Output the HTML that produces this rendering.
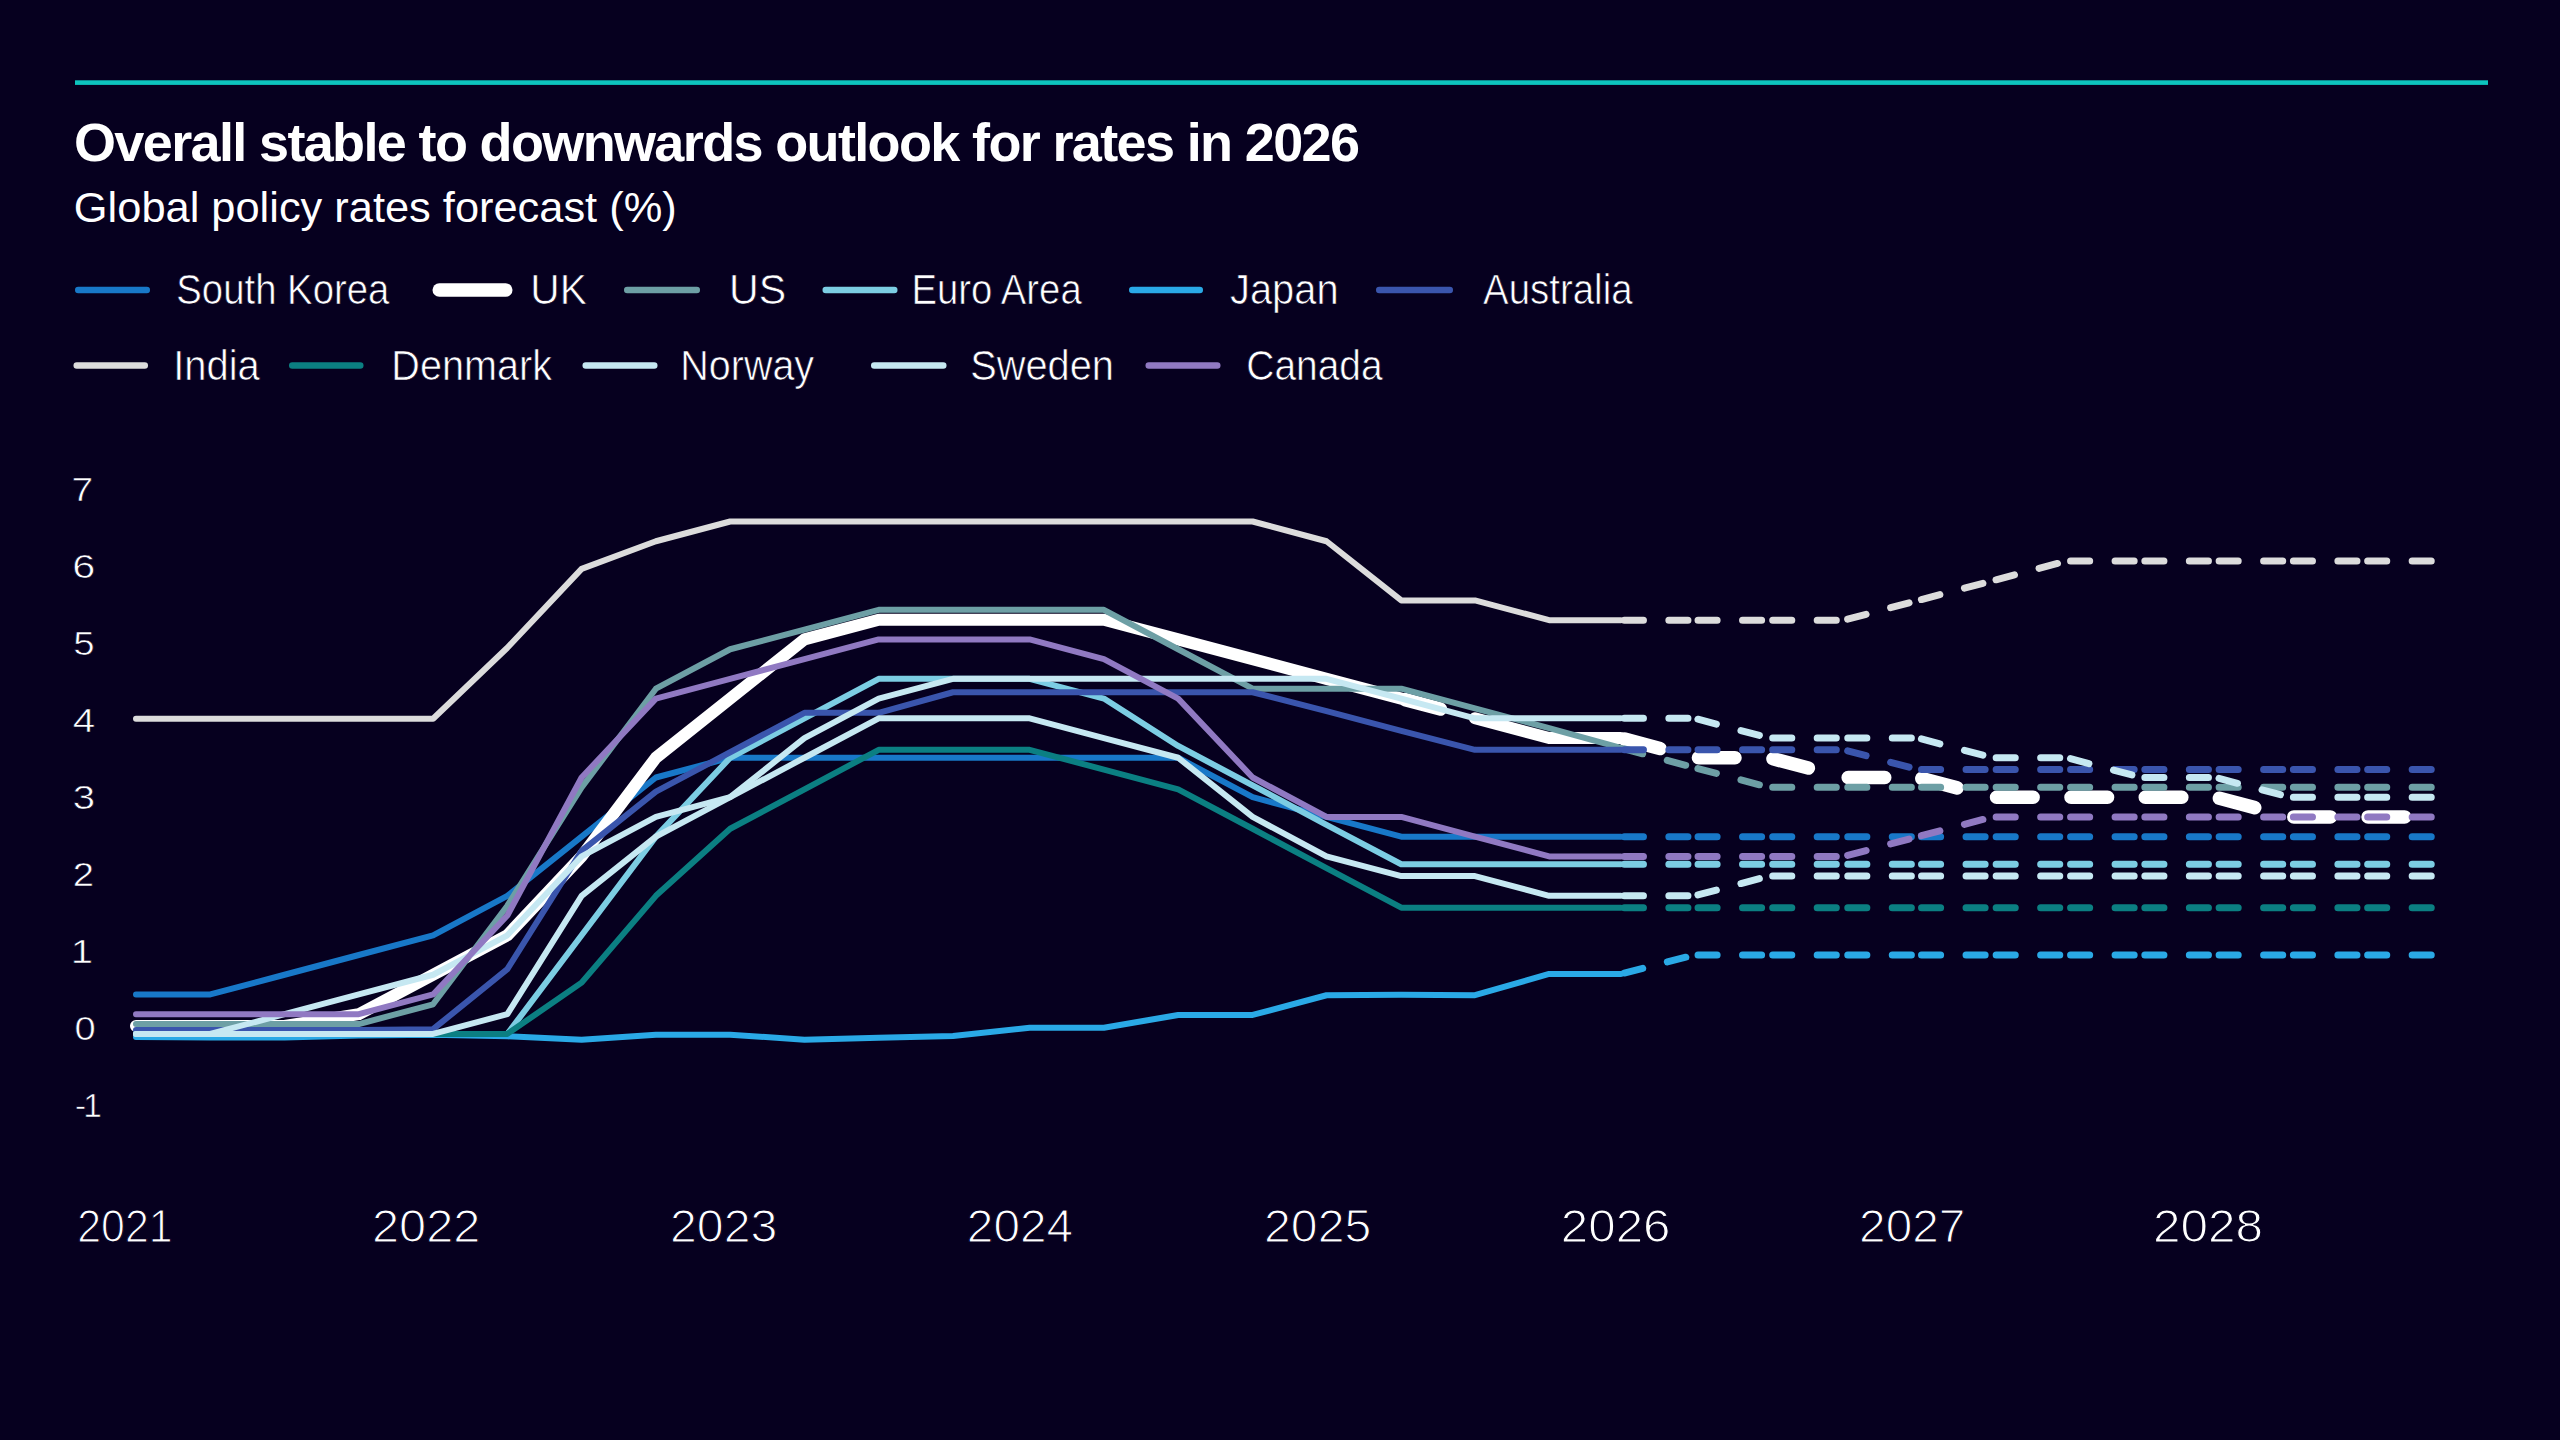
<!DOCTYPE html>
<html lang="en">
<head>
<meta charset="utf-8">
<title>Overall stable to downwards outlook for rates in 2026</title>
<style>
html,body{margin:0;padding:0;background:#06001f;}
body{width:2560px;height:1440px;overflow:hidden;font-family:"Liberation Sans",Arial,Helvetica,sans-serif;}
svg{display:block;position:absolute;left:0;top:0;}
text{font-family:"Liberation Sans",Arial,Helvetica,sans-serif;fill:#ffffff;}
.ttl{font-size:54px;font-weight:700;}
.sub{font-size:43px;font-weight:400;}
.lg{font-size:43px;stroke:#06001f;stroke-width:0.7px;paint-order:fill stroke;}
.yl{font-size:33.4px;stroke:#06001f;stroke-width:0.6px;}
.xl{font-size:47px;stroke:#06001f;stroke-width:1.2px;}

</style>
</head>
<body>
<svg width="2560" height="1440" viewBox="0 0 2560 1440">
<rect x="0" y="0" width="2560" height="1440" fill="#06001f"/>
<rect x="75" y="80.3" width="2413" height="4.6" fill="#0dc4be"/>
<text class="ttl" x="74" y="161.3" textLength="1286" lengthAdjust="spacing">Overall stable to downwards outlook for rates in 2026</text>
<text class="sub" transform="translate(73.87 222) scale(1.0093 1)">Global policy rates forecast (%)</text>
<g id="legend">
<line x1="78.25" y1="290" x2="146.75" y2="290" stroke="#1878c8" stroke-width="6.5" stroke-linecap="round"/>
<text class="lg" transform="translate(176.32 304.1) scale(0.8912 1)">South Korea</text>
<line x1="439.3" y1="290" x2="505.7" y2="290" stroke="#ffffff" stroke-width="13.6" stroke-linecap="round"/>
<text class="lg" transform="translate(530.23 304.1) scale(0.9475 1)">UK</text>
<line x1="627.25" y1="290" x2="696.75" y2="290" stroke="#6d9fa5" stroke-width="6.5" stroke-linecap="round"/>
<text class="lg" transform="translate(729.1 304.1) scale(0.9582 1)">US</text>
<line x1="825.75" y1="290" x2="894.25" y2="290" stroke="#7ccde3" stroke-width="6.5" stroke-linecap="round"/>
<text class="lg" transform="translate(911.43 304.1) scale(0.8905 1)">Euro Area</text>
<line x1="1132.25" y1="290" x2="1199.75" y2="290" stroke="#2aa9e6" stroke-width="6.5" stroke-linecap="round"/>
<text class="lg" transform="translate(1230.05 304.1) scale(0.9263 1)">Japan</text>
<line x1="1379.25" y1="290" x2="1449.75" y2="290" stroke="#3a55ad" stroke-width="6.5" stroke-linecap="round"/>
<text class="lg" transform="translate(1483.07 304.1) scale(0.8937 1)">Australia</text>
<line x1="76.75" y1="365.5" x2="144.75" y2="365.5" stroke="#dcdcdc" stroke-width="6.5" stroke-linecap="round"/>
<text class="lg" transform="translate(173.19 380) scale(0.9285 1)">India</text>
<line x1="292.25" y1="365.5" x2="360.25" y2="365.5" stroke="#0b7f82" stroke-width="6.5" stroke-linecap="round"/>
<text class="lg" transform="translate(391.31 380) scale(0.9213 1)">Denmark</text>
<line x1="585.75" y1="365.5" x2="654.25" y2="365.5" stroke="#c6e8f2" stroke-width="6.5" stroke-linecap="round"/>
<text class="lg" transform="translate(680.26 380) scale(0.9187 1)">Norway</text>
<line x1="874.25" y1="365.5" x2="943.25" y2="365.5" stroke="#c6e8f2" stroke-width="6.5" stroke-linecap="round"/>
<text class="lg" transform="translate(970.17 380) scale(0.9259 1)">Sweden</text>
<line x1="1148.75" y1="365.5" x2="1217.25" y2="365.5" stroke="#9079c2" stroke-width="6.5" stroke-linecap="round"/>
<text class="lg" transform="translate(1246.3 380) scale(0.9050 1)">Canada</text>
</g>
<g id="axes">
<text class="yl" transform="translate(71.57 500.6) scale(1.1669 1)">7</text>
<text class="yl" transform="translate(72.21 577.65) scale(1.2411 1)">6</text>
<text class="yl" transform="translate(73.37 654.7) scale(1.1502 1)">5</text>
<text class="yl" transform="translate(72.79 731.75) scale(1.2093 1)">4</text>
<text class="yl" transform="translate(72.63 808.8) scale(1.2028 1)">3</text>
<text class="yl" transform="translate(72.7 885.85) scale(1.1468 1)">2</text>
<text class="yl" transform="translate(70.8 962.9) scale(1.2 1)">1</text>
<text class="yl" transform="translate(74.58 1039.95) scale(1.1404 1)">0</text>
<text class="yl" style="letter-spacing:-2.9px" transform="translate(75 1117)">-1</text>
<text class="xl" transform="translate(77.21 1241.6) scale(0.9129 1)">2021</text>
<text class="xl" transform="translate(371.98 1241.6) scale(1.0368 1)">2022</text>
<text class="xl" transform="translate(669.98 1241.6) scale(1.0269 1)">2023</text>
<text class="xl" transform="translate(966.87 1241.6) scale(1.0168 1)">2024</text>
<text class="xl" transform="translate(1264.05 1241.6) scale(1.0264 1)">2025</text>
<text class="xl" transform="translate(1560.85 1241.6) scale(1.0488 1)">2026</text>
<text class="xl" transform="translate(1859.09 1241.6) scale(1.0162 1)">2027</text>
<text class="xl" transform="translate(2152.88 1241.6) scale(1.0523 1)">2028</text>
</g>
<g id="chart">
<g stroke="#1878c8" fill="none" stroke-linecap="round" stroke-linejoin="round">
<path d="M136 994.45 L210.27 994.45 L284.54 974.73 L358.81 955 L433.08 935.28 L507.35 895.83 L581.62 836.65 L655.89 777.48 L730.16 757.75 L804.43 757.75 L878.7 757.75 L952.97 757.75 L1029.64 757.75 L1103.91 757.75 L1178.18 757.75 L1252.65 797.2 L1326.52 816.93 L1401.29 836.65 L1474.96 836.65 L1549.13 836.65 L1620.8 836.65" stroke-width="6"/>
<path d="M1624.35 836.65L1643.45 836.65M1668.85 836.65L1687.95 836.65M1698.02 836.65L1717.12 836.65M1742.52 836.65L1761.62 836.65M1772.69 836.65L1791.79 836.65M1817.19 836.65L1836.29 836.65M1847.76 836.65L1866.86 836.65M1892.26 836.65L1911.36 836.65M1921.53 836.65L1940.63 836.65M1966.03 836.65L1985.13 836.65M1996.15 836.65L2015.25 836.65M2040.65 836.65L2059.75 836.65M2070.57 836.65L2089.67 836.65M2115.07 836.65L2134.17 836.65M2144.84 836.65L2163.94 836.65M2189.34 836.65L2208.44 836.65M2219.11 836.65L2238.21 836.65M2263.61 836.65L2282.71 836.65M2293.38 836.65L2312.48 836.65M2337.88 836.65L2356.98 836.65M2367.65 836.65L2386.75 836.65M2412.15 836.65L2431.25 836.65" stroke-width="7"/>
</g>
<g stroke="#ffffff" fill="none" stroke-linecap="round" stroke-linejoin="round">
<path d="M136 1026.01 L210.27 1026.01 L284.54 1026.01 L358.81 1014.18 L433.08 974.73 L507.35 935.28 L581.62 856.38 L655.89 757.75 L730.16 698.58 L804.43 639.4 L878.7 619.68 L952.97 619.68 L1029.64 619.68 L1103.91 619.68 L1178.18 639.4 L1252.65 659.12 L1326.52 678.85 L1401.29 698.58M1474.96 718.3 L1549.13 738.03 L1620.8 738.03" stroke-width="12"/>
<path d="M1405.15 699.61L1440.41 709.05M1624.66 739.06L1659.92 748.5M1698.47 757.75L1734.97 757.75M1773.01 758.77L1808.31 768.04M1848.21 777.48L1884.71 777.48M1921.85 778.5L1957.14 787.83M1996.6 797.2L2033.1 797.2M2071.02 797.2L2107.52 797.2M2145.29 797.2L2181.79 797.2M2219.43 798.23L2254.7 807.6M2293.83 816.93L2330.33 816.93M2368.1 816.93L2404.6 816.93" stroke-width="13.6"/>
</g>
<g stroke="#6d9fa5" fill="none" stroke-linecap="round" stroke-linejoin="round">
<path d="M136 1024.04 L210.27 1024.04 L284.54 1024.04 L358.81 1024.04 L433.08 1004.31 L507.35 905.69 L581.62 787.34 L655.89 688.71 L730.16 649.26 L804.43 629.54 L878.7 609.81 L952.97 609.81 L1029.64 609.81 L1103.91 609.81 L1178.18 649.26 L1252.65 688.71 L1326.52 688.71 L1401.29 688.71 L1474.96 708.44 L1549.13 728.16 L1620.8 747.89" stroke-width="6"/>
<path d="M1624.23 748.81L1642.68 753.75M1667.22 760.32L1685.67 765.26M1697.9 768.52L1716.37 773.4M1740.93 779.88L1759.39 784.76M1772.69 787.34L1791.79 787.34M1817.19 787.34L1836.29 787.34M1847.76 787.34L1866.86 787.34M1892.26 787.34L1911.36 787.34M1921.53 787.34L1940.63 787.34M1966.03 787.34L1985.13 787.34M1996.15 787.34L2015.25 787.34M2040.65 787.34L2059.75 787.34M2070.57 787.34L2089.67 787.34M2115.07 787.34L2134.17 787.34M2144.84 787.34L2163.94 787.34M2189.34 787.34L2208.44 787.34M2219.11 787.34L2238.21 787.34M2263.61 787.34L2282.71 787.34M2293.38 787.34L2312.48 787.34M2337.88 787.34L2356.98 787.34M2367.65 787.34L2386.75 787.34M2412.15 787.34L2431.25 787.34" stroke-width="7"/>
</g>
<g stroke="#7ccde3" fill="none" stroke-linecap="round" stroke-linejoin="round">
<path d="M136 1033.9 L210.27 1033.9 L284.54 1033.9 L358.81 1033.9 L433.08 1033.9 L507.35 1033.9 L581.62 935.28 L655.89 836.65 L730.16 757.75 L804.43 718.3 L878.7 678.85 L952.97 678.85 L1029.64 678.85 L1103.91 698.58 L1178.18 745.92 L1252.65 785.37 L1326.52 824.82 L1401.29 864.27 L1474.96 864.27 L1549.13 864.27 L1620.8 864.27" stroke-width="6"/>
<path d="M1624.35 864.27L1643.45 864.27M1668.85 864.27L1687.95 864.27M1698.02 864.27L1717.12 864.27M1742.52 864.27L1761.62 864.27M1772.69 864.27L1791.79 864.27M1817.19 864.27L1836.29 864.27M1847.76 864.27L1866.86 864.27M1892.26 864.27L1911.36 864.27M1921.53 864.27L1940.63 864.27M1966.03 864.27L1985.13 864.27M1996.15 864.27L2015.25 864.27M2040.65 864.27L2059.75 864.27M2070.57 864.27L2089.67 864.27M2115.07 864.27L2134.17 864.27M2144.84 864.27L2163.94 864.27M2189.34 864.27L2208.44 864.27M2219.11 864.27L2238.21 864.27M2263.61 864.27L2282.71 864.27M2293.38 864.27L2312.48 864.27M2337.88 864.27L2356.98 864.27M2367.65 864.27L2386.75 864.27M2412.15 864.27L2431.25 864.27" stroke-width="7"/>
</g>
<g stroke="#2aa9e6" fill="none" stroke-linecap="round" stroke-linejoin="round">
<path d="M136 1037.06 L210.27 1037.45 L284.54 1037.45 L358.81 1035.48 L433.08 1034.69 L507.35 1036.27 L581.62 1039.74 L655.89 1034.69 L730.16 1034.69 L804.43 1039.74 L878.7 1037.85 L952.97 1035.95 L1029.64 1027.67 L1103.91 1027.67 L1178.18 1014.96 L1252.65 1014.96 L1326.52 995.24 L1401.29 994.84 L1474.96 995.24 L1549.13 973.94 L1620.8 973.94" stroke-width="6"/>
<path d="M1624.24 973.05L1642.74 968.3M1667.34 961.97L1685.84 957.22M1698.02 955L1717.12 955M1742.52 955L1761.62 955M1772.69 955L1791.79 955M1817.19 955L1836.29 955M1847.76 955L1866.86 955M1892.26 955L1911.36 955M1921.53 955L1940.63 955M1966.03 955L1985.13 955M1996.15 955L2015.25 955M2040.65 955L2059.75 955M2070.57 955L2089.67 955M2115.07 955L2134.17 955M2144.84 955L2163.94 955M2189.34 955L2208.44 955M2219.11 955L2238.21 955M2263.61 955L2282.71 955M2293.38 955L2312.48 955M2337.88 955L2356.98 955M2367.65 955L2386.75 955M2412.15 955L2431.25 955" stroke-width="7"/>
</g>
<g stroke="#3a55ad" fill="none" stroke-linecap="round" stroke-linejoin="round">
<path d="M136 1029.96 L210.27 1029.96 L284.54 1029.96 L358.81 1029.96 L433.08 1029.17 L507.35 969.2 L581.62 850.85 L655.89 791.68 L730.16 752.23 L804.43 712.78 L878.7 712.78 L952.97 692.26 L1029.64 692.26 L1103.91 692.26 L1178.18 692.26 L1252.65 692.26 L1326.52 711.2 L1401.29 730.92 L1474.96 749.86 L1549.13 749.86 L1620.8 749.86" stroke-width="6"/>
<path d="M1624.35 749.86L1643.45 749.86M1668.85 749.86L1687.95 749.86M1698.02 749.86L1717.12 749.86M1742.52 749.86L1761.62 749.86M1772.69 749.86L1791.79 749.86M1817.19 749.86L1836.29 749.86M1847.64 750.78L1866.09 755.71M1890.63 762.27L1909.08 767.21M1921.53 769.59L1940.63 769.59M1966.03 769.59L1985.13 769.59M1996.15 769.59L2015.25 769.59M2040.65 769.59L2059.75 769.59M2070.57 769.59L2089.67 769.59M2115.07 769.59L2134.17 769.59M2144.84 769.59L2163.94 769.59M2189.34 769.59L2208.44 769.59M2219.11 769.59L2238.21 769.59M2263.61 769.59L2282.71 769.59M2293.38 769.59L2312.48 769.59M2337.88 769.59L2356.98 769.59M2367.65 769.59L2386.75 769.59M2412.15 769.59L2431.25 769.59" stroke-width="7"/>
</g>
<g stroke="#dcdcdc" fill="none" stroke-linecap="round" stroke-linejoin="round">
<path d="M136 718.77 L210.27 718.77 L284.54 718.77 L358.81 718.77 L433.08 718.77 L507.35 647.76 L581.62 568.86 L655.89 541.25 L730.16 521.52 L804.43 521.52 L878.7 521.52 L952.97 521.52 L1029.64 521.52 L1103.91 521.52 L1178.18 521.52 L1252.65 521.52 L1326.52 541.25 L1401.29 600.42 L1474.96 600.42 L1549.13 620.15 L1620.8 620.15" stroke-width="6"/>
<path d="M1624.35 620.15L1643.45 620.15M1668.85 620.15L1687.95 620.15M1698.02 620.15L1717.12 620.15M1742.52 620.15L1761.62 620.15M1772.69 620.15L1791.79 620.15M1817.19 620.15L1836.29 620.15M1847.64 619.23L1866.09 614.3M1890.63 607.74L1909.08 602.8M1921.41 599.52L1939.88 594.63M1964.43 588.14L1982.9 583.26M1996.03 579.79L2014.49 574.9M2039.05 568.39L2057.51 563.49M2070.57 560.97L2089.67 560.97M2115.07 560.97L2134.17 560.97M2144.84 560.97L2163.94 560.97M2189.34 560.97L2208.44 560.97M2219.11 560.97L2238.21 560.97M2263.61 560.97L2282.71 560.97M2293.38 560.97L2312.48 560.97M2337.88 560.97L2356.98 560.97M2367.65 560.97L2386.75 560.97M2412.15 560.97L2431.25 560.97" stroke-width="7"/>
</g>
<g stroke="#0b7f82" fill="none" stroke-linecap="round" stroke-linejoin="round">
<path d="M136 1033.9 L210.27 1033.9 L284.54 1033.9 L358.81 1033.9 L433.08 1033.9 L507.35 1033.9 L581.62 982.62 L655.89 895.83 L730.16 828.76 L804.43 789.31 L878.7 749.86 L952.97 749.86 L1029.64 749.86 L1103.91 769.59 L1178.18 789.31 L1252.65 828.76 L1326.52 868.21 L1401.29 907.66 L1474.96 907.66 L1549.13 907.66 L1620.8 907.66" stroke-width="6"/>
<path d="M1624.35 907.66L1643.45 907.66M1668.85 907.66L1687.95 907.66M1698.02 907.66L1717.12 907.66M1742.52 907.66L1761.62 907.66M1772.69 907.66L1791.79 907.66M1817.19 907.66L1836.29 907.66M1847.76 907.66L1866.86 907.66M1892.26 907.66L1911.36 907.66M1921.53 907.66L1940.63 907.66M1966.03 907.66L1985.13 907.66M1996.15 907.66L2015.25 907.66M2040.65 907.66L2059.75 907.66M2070.57 907.66L2089.67 907.66M2115.07 907.66L2134.17 907.66M2144.84 907.66L2163.94 907.66M2189.34 907.66L2208.44 907.66M2219.11 907.66L2238.21 907.66M2263.61 907.66L2282.71 907.66M2293.38 907.66L2312.48 907.66M2337.88 907.66L2356.98 907.66M2367.65 907.66L2386.75 907.66M2412.15 907.66L2431.25 907.66" stroke-width="7"/>
</g>
<g stroke="#c6e8f2" fill="none" stroke-linecap="round" stroke-linejoin="round">
<path d="M136 1033.9 L210.27 1033.9 L284.54 1014.18 L358.81 994.45 L433.08 974.73 L507.35 935.28 L581.62 856.38 L655.89 816.93 L730.16 797.2 L804.43 738.03 L878.7 698.58 L952.97 678.85 L1029.64 678.85 L1103.91 678.85 L1178.18 678.85 L1252.65 678.85 L1326.52 678.85 L1401.29 698.58 L1474.96 718.3 L1549.13 718.3 L1620.8 718.3" stroke-width="6"/>
<path d="M1624.35 718.3L1643.45 718.3M1668.85 718.3L1687.95 718.3M1697.9 719.21L1716.37 724.08M1740.93 730.57L1759.39 735.45M1772.69 738.03L1791.79 738.03M1817.19 738.03L1836.29 738.03M1847.76 738.03L1866.86 738.03M1892.26 738.03L1911.36 738.03M1921.41 738.93L1939.88 743.81M1964.43 750.3L1982.9 755.19M1996.15 757.75L2015.25 757.75M2040.65 757.75L2059.75 757.75M2070.45 758.66L2088.91 763.56M2113.46 770.08L2131.92 774.99M2144.84 777.48L2163.94 777.48M2189.34 777.48L2208.44 777.48M2218.99 778.39L2237.45 783.29M2262 789.81L2280.46 794.71M2293.38 797.2L2312.48 797.2M2337.88 797.2L2356.98 797.2M2367.65 797.2L2386.75 797.2M2412.15 797.2L2431.25 797.2" stroke-width="7"/>
</g>
<g stroke="#c6e8f2" fill="none" stroke-linecap="round" stroke-linejoin="round">
<path d="M136 1033.9 L210.27 1033.9 L284.54 1033.9 L358.81 1033.9 L433.08 1033.9 L507.35 1014.18 L581.62 895.83 L655.89 836.65 L730.16 797.2 L804.43 757.75 L878.7 718.3 L952.97 718.3 L1029.64 718.3 L1103.91 738.03 L1178.18 757.75 L1252.65 816.93 L1326.52 856.38 L1401.29 876.1 L1474.96 876.1 L1549.13 895.83 L1620.8 895.83" stroke-width="6"/>
<path d="M1624.35 895.83L1643.45 895.83M1668.85 895.83L1687.95 895.83M1697.9 894.92L1716.37 890.04M1740.93 883.55L1759.39 878.67M1772.69 876.1L1791.79 876.1M1817.19 876.1L1836.29 876.1M1847.76 876.1L1866.86 876.1M1892.26 876.1L1911.36 876.1M1921.53 876.1L1940.63 876.1M1966.03 876.1L1985.13 876.1M1996.15 876.1L2015.25 876.1M2040.65 876.1L2059.75 876.1M2070.57 876.1L2089.67 876.1M2115.07 876.1L2134.17 876.1M2144.84 876.1L2163.94 876.1M2189.34 876.1L2208.44 876.1M2219.11 876.1L2238.21 876.1M2263.61 876.1L2282.71 876.1M2293.38 876.1L2312.48 876.1M2337.88 876.1L2356.98 876.1M2367.65 876.1L2386.75 876.1M2412.15 876.1L2431.25 876.1" stroke-width="7"/>
</g>
<g stroke="#9079c2" fill="none" stroke-linecap="round" stroke-linejoin="round">
<path d="M136 1014.18 L210.27 1014.18 L284.54 1014.18 L358.81 1014.18 L433.08 994.45 L507.35 915.55 L581.62 777.48 L655.89 698.58 L730.16 678.85 L804.43 659.12 L878.7 639.4 L952.97 639.4 L1029.64 639.4 L1103.91 659.12 L1178.18 698.58 L1252.65 777.48 L1326.52 816.93 L1401.29 816.93 L1474.96 836.65 L1549.13 856.38 L1620.8 856.38" stroke-width="6"/>
<path d="M1624.35 856.38L1643.45 856.38M1668.85 856.38L1687.95 856.38M1698.02 856.38L1717.12 856.38M1742.52 856.38L1761.62 856.38M1772.69 856.38L1791.79 856.38M1817.19 856.38L1836.29 856.38M1847.64 855.46L1866.09 850.52M1890.63 843.96L1909.08 839.03M1921.41 835.74L1939.88 830.86M1964.43 824.37L1982.9 819.49M1996.15 816.93L2015.25 816.93M2040.65 816.93L2059.75 816.93M2070.57 816.93L2089.67 816.93M2115.07 816.93L2134.17 816.93M2144.84 816.93L2163.94 816.93M2189.34 816.93L2208.44 816.93M2219.11 816.93L2238.21 816.93M2263.61 816.93L2282.71 816.93M2293.38 816.93L2312.48 816.93M2337.88 816.93L2356.98 816.93M2367.65 816.93L2386.75 816.93M2412.15 816.93L2431.25 816.93" stroke-width="7"/>
</g>
</g>
</svg>
</body>
</html>
